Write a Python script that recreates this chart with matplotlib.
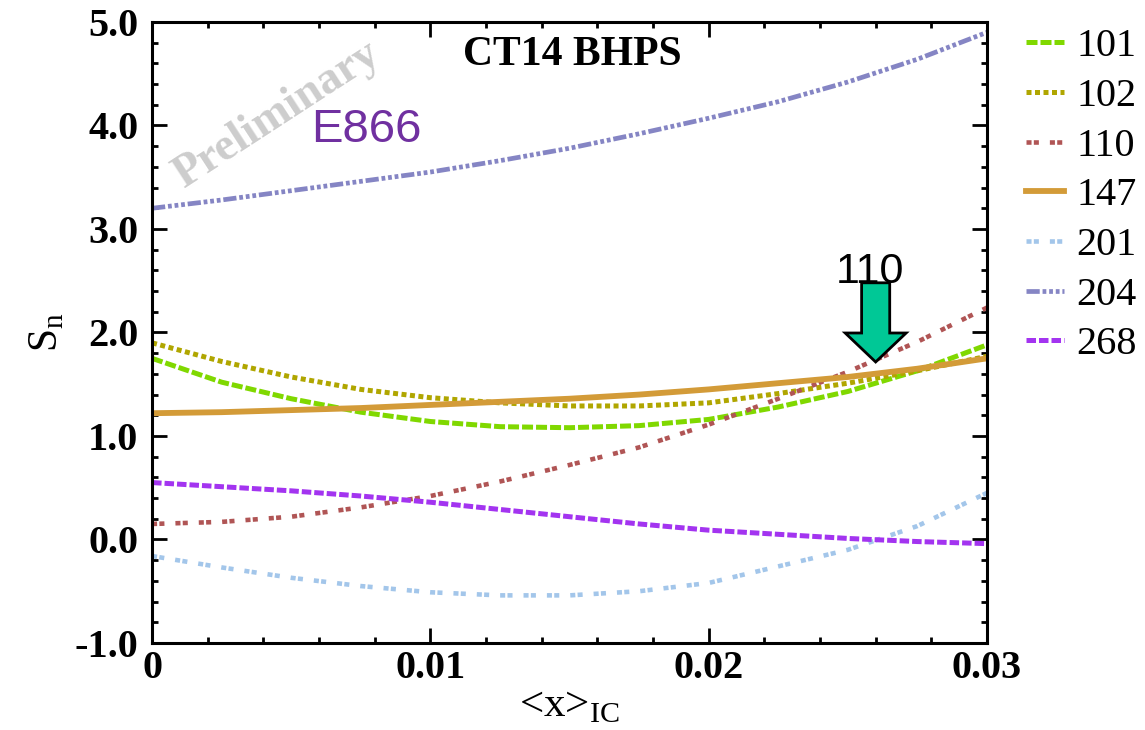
import matplotlib
matplotlib.use("Agg")
import matplotlib.pyplot as plt
from matplotlib.ticker import MultipleLocator, FixedLocator

plt.rcParams['axes.unicode_minus'] = False

# <x>_IC grid and S_n values for each CT14 BHPS fit
x_ic = [0, 0.0025, 0.005, 0.0075, 0.01, 0.0125, 0.015, 0.0175, 0.02, 0.0225, 0.025, 0.0275, 0.03]

s_101 = [1.75, 1.52, 1.36, 1.23, 1.14, 1.09, 1.08, 1.10, 1.16, 1.28, 1.43, 1.63, 1.88]
s_102 = [1.90, 1.72, 1.57, 1.45, 1.37, 1.32, 1.29, 1.29, 1.32, 1.41, 1.51, 1.63, 1.77]
s_110 = [0.15, 0.17, 0.22, 0.31, 0.42, 0.56, 0.72, 0.89, 1.11, 1.36, 1.62, 1.91, 2.24]
s_147 = [1.22, 1.23, 1.25, 1.27, 1.30, 1.33, 1.36, 1.40, 1.45, 1.51, 1.57, 1.65, 1.75]
s_201 = [-0.16, -0.27, -0.37, -0.45, -0.51, -0.54, -0.54, -0.50, -0.42, -0.26, -0.10, 0.13, 0.45]
s_204 = [3.20, 3.28, 3.37, 3.46, 3.55, 3.66, 3.78, 3.92, 4.07, 4.23, 4.42, 4.64, 4.90]
s_268 = [0.55, 0.51, 0.47, 0.42, 0.36, 0.29, 0.22, 0.15, 0.09, 0.05, 0.01, -0.02, -0.04]

y_ticks = [-1.0, 0.0, 1.0, 2.0, 3.0, 4.0, 5.0]
x_ticks = [0, 0.01, 0.02, 0.03]
x_tick_labels = ["0", "0.01", "0.02", "0.03"]

# arrow pointing at fit 110
arrow_x = 0.026
arrow_top = 2.48
arrow_tip = 1.715

fig = plt.figure(figsize=(11.45, 7.3), dpi=100)
ax = fig.add_axes([0.1328, 0.1192, 0.7292, 0.8507])

serif = "Liberation Serif"
sans = "Liberation Sans"

ax.plot(x_ic, s_101, color="#80D800", lw=3.6, dashes=(2.2, 0.6), label="101")
ax.plot(x_ic, s_102, color="#B0A600", lw=3.6, dashes=(1.0, 0.7), label="102")
ax.plot(x_ic, s_110, color="#B05555", lw=3.3, dashes=(1.1, 0.5, 1.1, 2.4), label="110")
ax.plot(x_ic, s_147, color="#D39B38", lw=4.2, label="147")
ax.plot(x_ic, s_201, color="#A3C6EA", lw=3.3, dashes=(1.1, 0.5, 1.1, 2.4), label="201")
ax.plot(x_ic, s_204, color="#8585C4", lw=3.4, dashes=(2.8, 0.6, 0.8, 0.6, 0.8, 0.6, 0.8, 0.6), label="204")
ax.plot(x_ic, s_268, color="#A334F0", lw=3.6, dashes=(1.9, 0.6), label="268")

ax.set_xlim(0, 0.03)
ax.set_ylim(-1.0, 5.0)

ax.xaxis.set_major_locator(FixedLocator(x_ticks))
ax.set_xticklabels(x_tick_labels)
ax.xaxis.set_minor_locator(MultipleLocator(0.002))
ax.yaxis.set_major_locator(FixedLocator(y_ticks))
ax.set_yticklabels([f"{v:.1f}" for v in y_ticks])
ax.yaxis.set_minor_locator(MultipleLocator(0.2))

ax.tick_params(which="both", direction="in", top=True, right=True, width=2.0)
ax.tick_params(which="major", length=11)
ax.tick_params(which="minor", length=4.5)
ax.tick_params(axis="y", which="major", pad=10)
ax.tick_params(axis="x", which="major", pad=5)
for lbl in ax.get_xticklabels() + ax.get_yticklabels():
    lbl.set_fontfamily(serif)
    lbl.set_fontweight("bold")
    lbl.set_fontsize(29)
for sp in ax.spines.values():
    sp.set_linewidth(2.2)

ax.set_ylabel(r"S$_\mathregular{n}$", fontfamily=serif, fontsize=30, labelpad=6)
ax.set_xlabel(r"<x>$_\mathregular{IC}$", fontfamily=serif, fontsize=31, labelpad=0)

ax.text(0.0151, 4.68, "CT14 BHPS", fontfamily=serif, fontweight="bold",
        fontsize=30, ha="center", va="center")
ax.text(0.0045, 4.10, "Preliminary", fontfamily=serif, fontweight="bold",
        fontsize=33, color="#CDCDCD", rotation=33, ha="center", va="center")
ax.text(0.0077, 3.96, "E866", fontfamily=sans, fontsize=34,
        color="#7030A0", ha="center", va="center")
ax.text(0.0258, 2.58, "110", fontfamily=sans, fontsize=31,
        ha="center", va="center")

ax.arrow(arrow_x, arrow_top, 0, arrow_tip - arrow_top, width=0.00101,
         head_width=0.00219, head_length=0.28, length_includes_head=True,
         facecolor="#00C896", edgecolor="black", lw=2.0, zorder=5)

leg = ax.legend(loc="upper left", bbox_to_anchor=(1.047, 0.99), frameon=False,
                handlelength=0.95, handletextpad=0.3, labelspacing=0.31,
                borderaxespad=0.0, borderpad=0.0,
                prop={"family": serif, "size": 29})

fig.savefig("out.png", dpi=100)
